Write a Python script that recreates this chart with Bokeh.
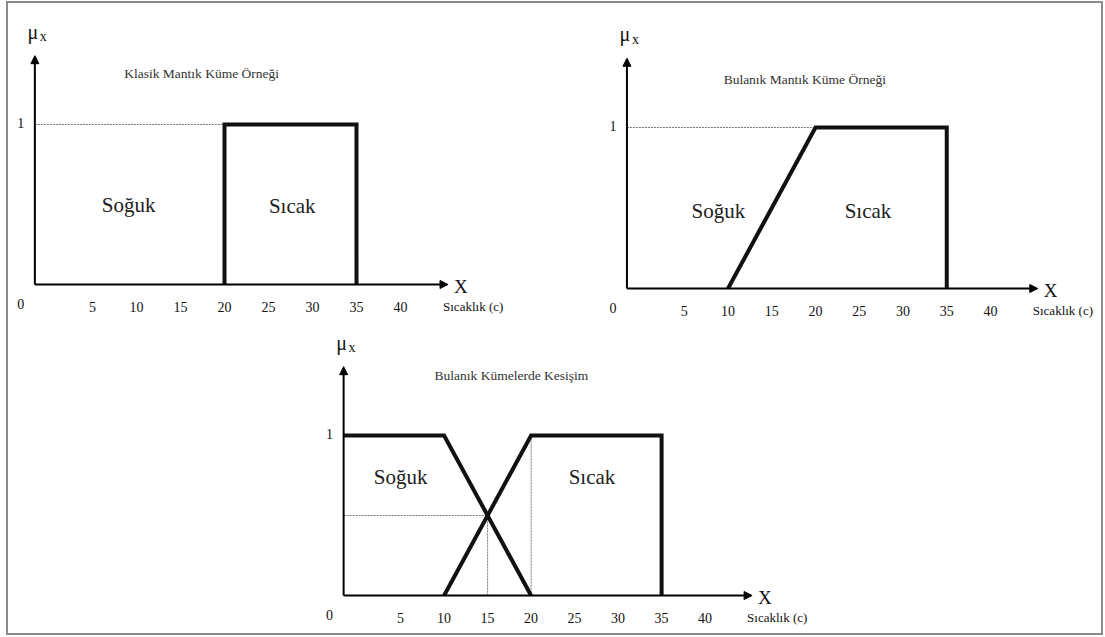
from bokeh.plotting import figure
from bokeh.layouts import column, row
from bokeh.models import Range1d, Arrow, NormalHead, Spacer
from bokeh.embed import file_html
from bokeh.resources import INLINE
from bokeh.core.properties import value

# ---------------- data ----------------
ticks = [5, 10, 15, 20, 25, 30, 35, 40]
tick_labels = ["5", "10", "15", "20", "25", "30", "35", "40"]
origin_label = "0"
one_label = "1"

titles = ["Klasik Mantık Küme Örneği", "Bulanık Mantık Küme Örneği", "Bulanık Kümelerde Kesişim"]
set_names = ["Soğuk", "Sıcak"]
x_axis_title = "Sıcaklık (c)"
x_symbol = "X"
mu_symbol = "μ"
mu_sub = "x"

# panel 1: classic (crisp) set
p1_sicak_x = [20, 20, 35, 35]
p1_sicak_y = [0, 1, 1, 0]
p1_ref_x = [20]          # dotted reference line at mu = 1 ends here

# panel 2: fuzzy set
p2_sicak_x = [10, 20, 35, 35]
p2_sicak_y = [0, 1, 1, 0]
p2_ref_x = [20]

# panel 3: intersection of fuzzy sets
p3_soguk_x = [0, 10, 20]
p3_soguk_y = [1, 1, 0]
p3_sicak_x = [10, 20, 35, 35]
p3_sicak_y = [0, 1, 1, 0]
p3_cross_x = [15]
p3_cross_y = [0.5]

# ---------------- style / layout ----------------
FONT = value("'Liberation Serif', 'Times New Roman', serif")
AX0 = -1.55      # where the drawn vertical axis crosses
X_TIP = 45.4
Y_TIP = 1.43


def make_panel(W, H, x0, sx, y0, sy):
    p = figure(width=W, height=H,
               x_range=Range1d(-x0 / sx, (W - x0) / sx),
               y_range=Range1d(-(H - y0) / sy, y0 / sy),
               x_axis_type=None, y_axis_type=None,
               output_backend="svg", toolbar_location=None,
               min_border=0, outline_line_color=None)
    p.grid.visible = False
    # axes with arrow heads
    p.add_layout(Arrow(end=NormalHead(size=8, fill_color="black", line_color="black", line_width=1),
                       x_start=AX0, y_start=0, x_end=X_TIP, y_end=0,
                       line_width=2, line_color="black"))
    p.add_layout(Arrow(end=NormalHead(size=8, fill_color="black", line_color="black", line_width=1),
                       x_start=AX0, y_start=0, x_end=AX0, y_end=Y_TIP,
                       line_width=2, line_color="black"))
    # tick labels
    p.text(x=ticks, y=[0] * len(ticks), text=tick_labels, text_font=FONT,
           text_font_size="14px", text_align="center", text_baseline="middle",
           y_offset=22, text_color="#111")
    p.text(x=[AX0], y=[0], text=[origin_label], text_font=FONT, text_font_size="14px",
           text_align="center", text_baseline="middle", x_offset=-14, y_offset=19,
           text_color="#111")
    p.text(x=[AX0], y=[1], text=[one_label], text_font=FONT, text_font_size="14px",
           text_align="center", text_baseline="middle", x_offset=-14, y_offset=-2,
           text_color="#111")
    p.text(x=[X_TIP], y=[0], text=[x_axis_title], text_font=FONT, text_font_size="13px",
           text_align="left", text_baseline="middle", x_offset=-5, y_offset=22,
           text_color="#111")
    p.text(x=[X_TIP], y=[0], text=[x_symbol], text_font=FONT, text_font_size="19px",
           text_align="left", text_baseline="middle", x_offset=6, y_offset=2,
           text_color="#111")
    p.text(x=[AX0], y=[Y_TIP], text=[mu_symbol], text_font=FONT, text_font_size="20px",
           text_align="center", text_baseline="alphabetic", x_offset=-2, y_offset=-24,
           text_color="#111")
    p.text(x=[AX0], y=[Y_TIP], text=[mu_sub], text_font=FONT, text_font_size="14px",
           text_align="left", text_baseline="alphabetic", x_offset=5, y_offset=-19,
           text_color="#111")
    return p


THICK = dict(line_width=4, line_color="#111", line_join="miter", line_cap="butt")
DOT = dict(line_width=1, line_color="#777", line_dash="2 1")
TITLE_SIZE = "13.5px"

# panel 1
p1 = make_panel(552, 327, 40, 8.8, 281, 160)
p1.line([AX0, p1_ref_x[0]], [1, 1], **DOT)
p1.line(p1_sicak_x, p1_sicak_y, **THICK)
p1.text(x=[8.6], y=[1.32], text=[titles[0]], text_font=FONT, text_font_size=TITLE_SIZE,
        text_align="left", text_baseline="middle", text_color="#333")
p1.text(x=[9.1, 27.7], y=[0.5, 0.49], text=set_names, text_font=FONT,
        text_font_size="21px", text_align="center", text_baseline="middle", text_color="#222")

# panel 2
p2 = make_panel(541, 327, 80, 8.75, 285, 161)
p2.line([AX0, p2_ref_x[0]], [1, 1], **DOT)
p2.line(p2_sicak_x, p2_sicak_y, **THICK)
p2.text(x=[9.5], y=[1.30], text=[titles[1]], text_font=FONT, text_font_size=TITLE_SIZE,
        text_align="left", text_baseline="middle", text_color="#333")
p2.text(x=[8.9, 26.0], y=[0.48, 0.48], text=set_names, text_font=FONT,
        text_font_size="21px", text_align="center", text_baseline="middle", text_color="#222")

# panel 3
p3 = make_panel(540, 303, 56.6, 8.7, 265, 160)
p3.line([AX0, p3_cross_x[0]], [p3_cross_y[0], p3_cross_y[0]], **DOT)
p3.line([p3_cross_x[0], p3_cross_x[0]], [0, p3_cross_y[0]], **DOT)
p3.line([p3_sicak_x[1], p3_sicak_x[1]], [0, p3_sicak_y[1]], **DOT)
# the cold set's left shoulder continues to the vertical axis
p3.line([AX0] + p3_soguk_x, [p3_soguk_y[0]] + p3_soguk_y, **THICK)
p3.line(p3_sicak_x, p3_sicak_y, **THICK)
p3.text(x=[8.9], y=[1.375], text=[titles[2]], text_font=FONT, text_font_size=TITLE_SIZE,
        text_align="left", text_baseline="middle", text_color="#333")
p3.text(x=[5.0, 27.0], y=[0.74, 0.74], text=set_names, text_font=FONT,
        text_font_size="21px", text_align="center", text_baseline="middle", text_color="#222")

layout = column(row(p1, p2), row(Spacer(width=292, height=303), p3),
                styles={"border": "2px solid #8c8c8c", "margin": "1px 0 0 6px"})

open("out.html", "w").write(file_html(layout, INLINE))
